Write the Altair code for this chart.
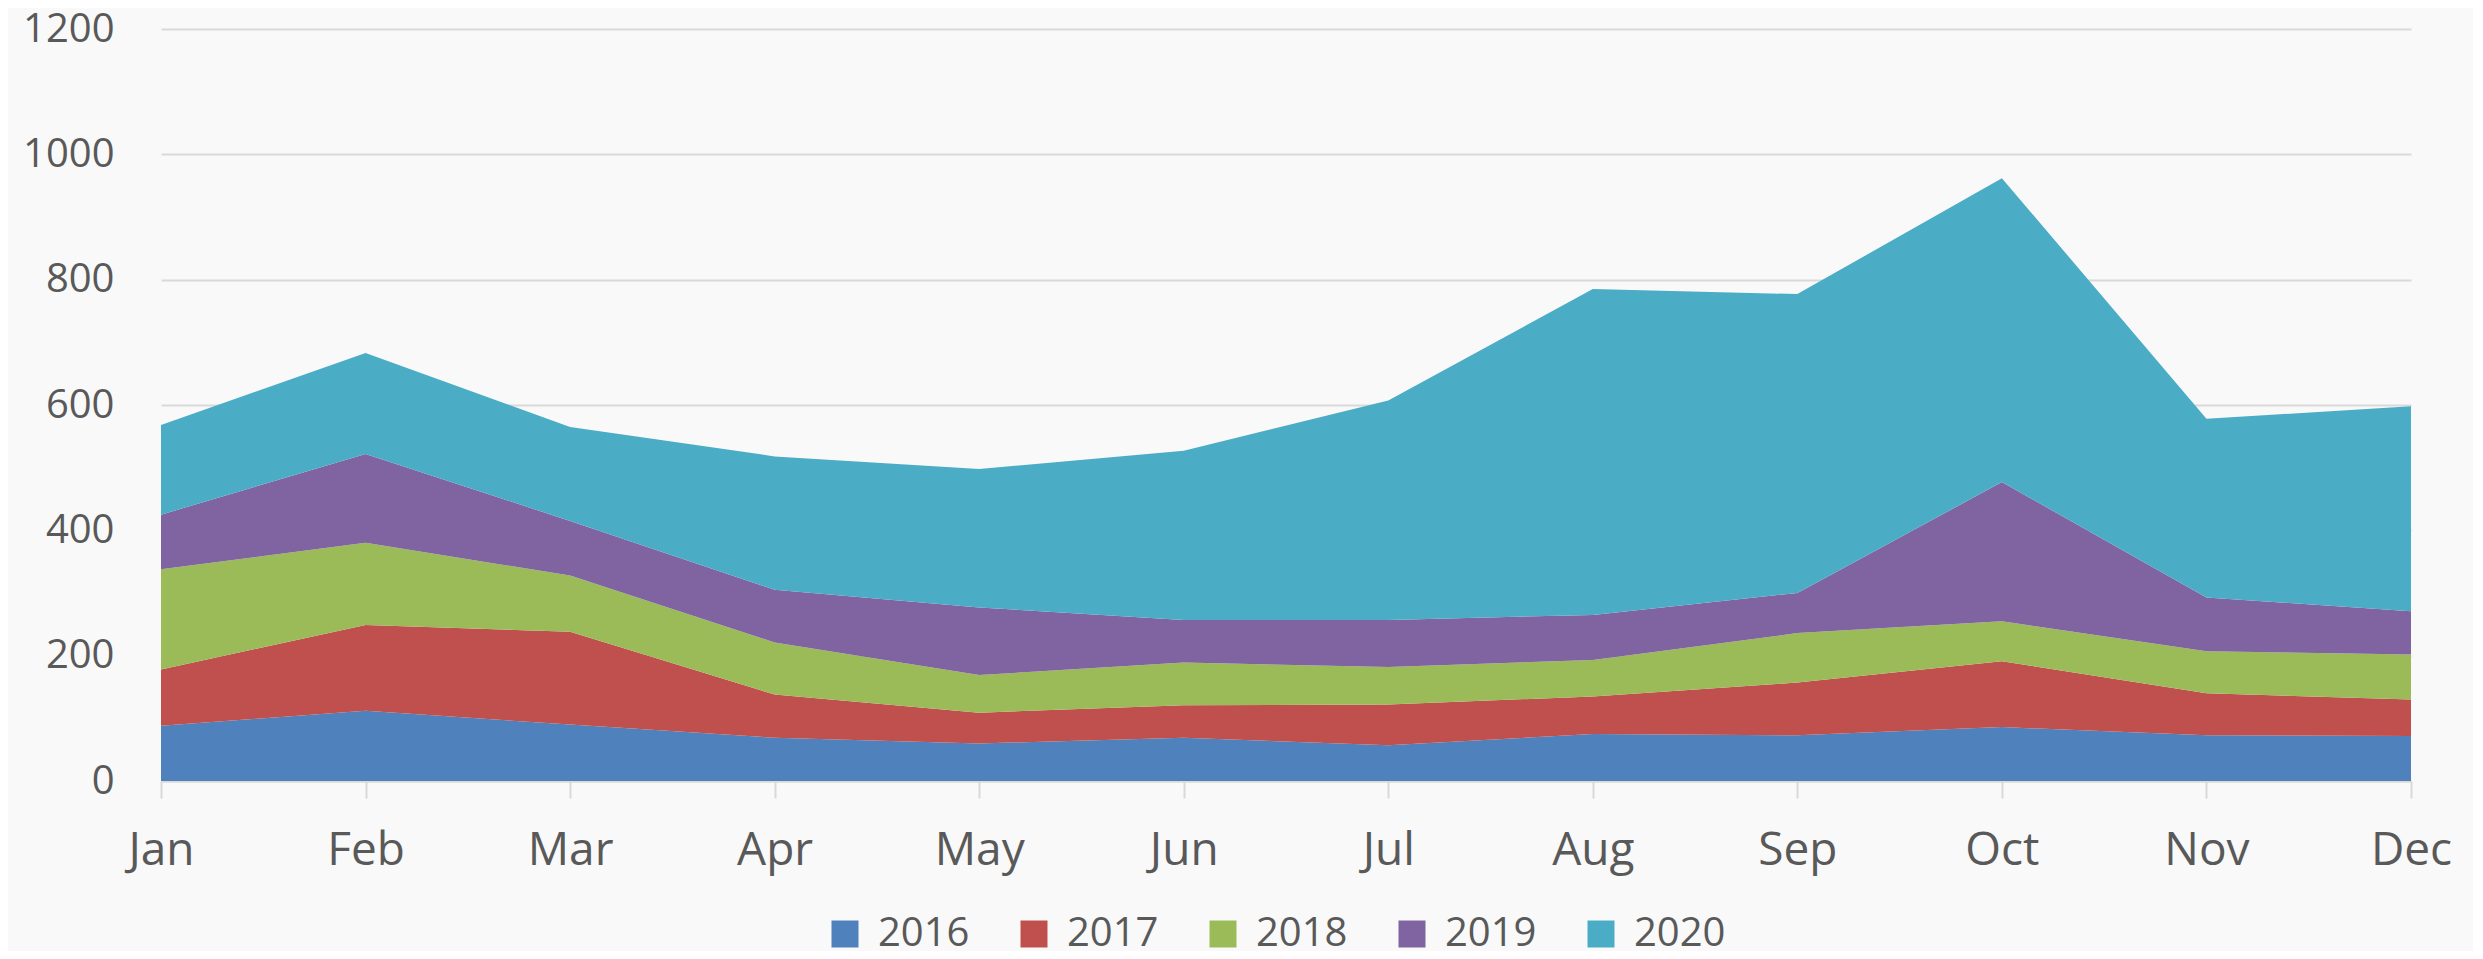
import altair as alt
import pandas as pd

months = ["Jan", "Feb", "Mar", "Apr", "May", "Jun", "Jul", "Aug", "Sep", "Oct", "Nov", "Dec"]
years = ["2016", "2017", "2018", "2019", "2020"]
s2016 = [88, 112, 90, 69, 60, 69, 57, 75, 73, 86, 73, 72]
s2017 = [90, 137, 148, 69, 49, 52, 65, 60, 84, 105, 67, 58]
s2018 = [160, 131, 90, 83, 60, 68, 60, 58, 79, 64, 67, 72]
s2019 = [87, 142, 87, 84, 108, 68, 75, 72, 64, 222, 86, 69]
s2020 = [143, 161, 150, 213, 221, 270, 350, 520, 477, 485, 285, 327]
colors = ["#4F81BD", "#C0504D", "#9BBB59", "#8064A2", "#4BACC6"]

series = [s2016, s2017, s2018, s2019, s2020]
rows = []
for yi, (yr, vals) in enumerate(zip(years, series)):
    for m, v in zip(months, vals):
        rows.append({"month": m, "year": yr, "value": v, "idx": yi})
df = pd.DataFrame(rows)

FONT = "Open Sans"
TXT = "#595959"

chart = alt.Chart(df).mark_area(opacity=1).encode(
    x=alt.X("month:N", sort=months, scale=alt.Scale(type="point", padding=0),
            axis=alt.Axis(title=None, labelAngle=0, labelFont=FONT, labelFontSize=46,
                          labelColor=TXT, tickColor="#D9D9D9", tickSize=17, tickWidth=2,
                          domainColor="#D9D9D9", domainWidth=2, labelPadding=30, grid=False)),
    y=alt.Y("value:Q", stack="zero", scale=alt.Scale(domain=[0, 1200], nice=False),
            axis=alt.Axis(title=None, values=[0, 200, 400, 600, 800, 1000, 1200], format="d",
                          labelFont=FONT, labelFontSize=40, labelColor=TXT, labelPadding=47,
                          domain=False, ticks=False, gridColor="#D9D9D9", gridWidth=2)),
    color=alt.Color("year:N", sort=years, scale=alt.Scale(domain=years, range=colors),
                    legend=alt.Legend(title=None, orient="none", direction="horizontal",
                                      legendX=664, legendY=885, symbolType="square",
                                      symbolSize=729, symbolStrokeWidth=0, symbolOpacity=1,
                                      labelFont=FONT, labelFontSize=40, labelColor=TXT,
                                      labelOffset=13, columnPadding=44)),
    order=alt.Order("idx:Q", sort="ascending"),
).properties(
    width=2250, height=752,
    autosize=alt.AutoSizeParams(type="none"),
    padding={"left": 153, "top": 21, "right": 62, "bottom": 170},
    background="#F9F9F9",
).configure_view(stroke=None)

chart.save("out.html", embed_options={"renderer": "svg", "actions": False})
